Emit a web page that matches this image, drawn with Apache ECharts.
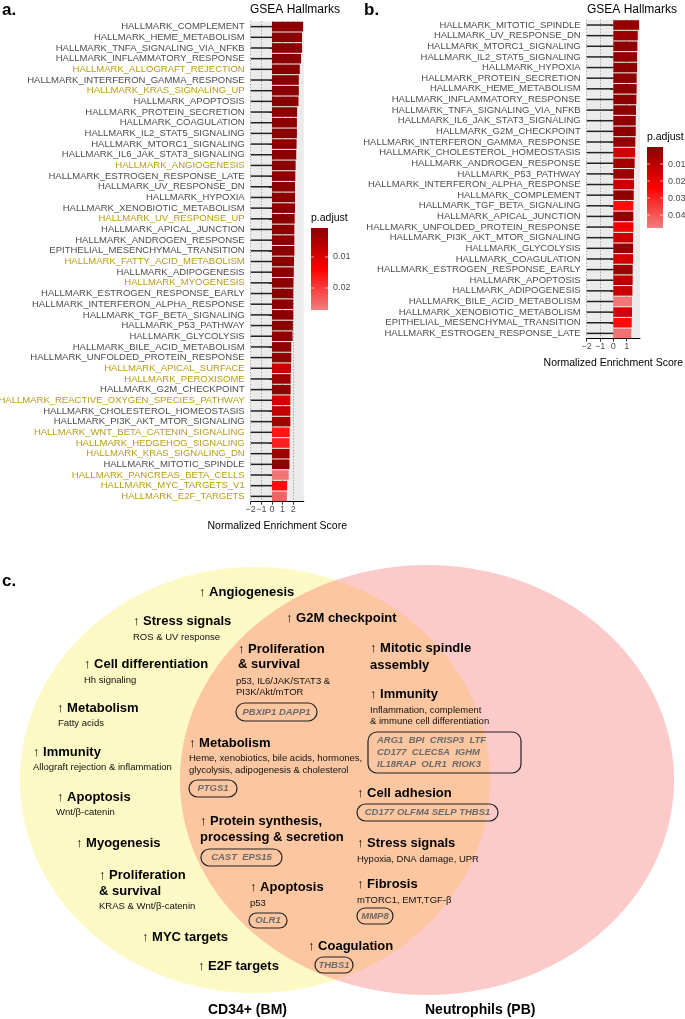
<!DOCTYPE html>
<html><head><meta charset="utf-8">
<script src="https://cdn.jsdelivr.net/npm/echarts@6/dist/echarts.min.js"></script>
<style>html,body{margin:0;padding:0;background:#fff}#c{width:685px;height:1019px}</style>
</head><body><div id="c"></div>
<script>
// ---------------- DATA ----------------
const catsA = ["HALLMARK_COMPLEMENT","HALLMARK_HEME_METABOLISM","HALLMARK_TNFA_SIGNALING_VIA_NFKB","HALLMARK_INFLAMMATORY_RESPONSE","HALLMARK_ALLOGRAFT_REJECTION","HALLMARK_INTERFERON_GAMMA_RESPONSE","HALLMARK_KRAS_SIGNALING_UP","HALLMARK_APOPTOSIS","HALLMARK_PROTEIN_SECRETION","HALLMARK_COAGULATION","HALLMARK_IL2_STAT5_SIGNALING","HALLMARK_MTORC1_SIGNALING","HALLMARK_IL6_JAK_STAT3_SIGNALING","HALLMARK_ANGIOGENESIS","HALLMARK_ESTROGEN_RESPONSE_LATE","HALLMARK_UV_RESPONSE_DN","HALLMARK_HYPOXIA","HALLMARK_XENOBIOTIC_METABOLISM","HALLMARK_UV_RESPONSE_UP","HALLMARK_APICAL_JUNCTION","HALLMARK_ANDROGEN_RESPONSE","EPITHELIAL_MESENCHYMAL_TRANSITION","HALLMARK_FATTY_ACID_METABOLISM","HALLMARK_ADIPOGENESIS","HALLMARK_MYOGENESIS","HALLMARK_ESTROGEN_RESPONSE_EARLY","HALLMARK_INTERFERON_ALPHA_RESPONSE","HALLMARK_TGF_BETA_SIGNALING","HALLMARK_P53_PATHWAY","HALLMARK_GLYCOLYSIS","HALLMARK_BILE_ACID_METABOLISM","HALLMARK_UNFOLDED_PROTEIN_RESPONSE","HALLMARK_APICAL_SURFACE","HALLMARK_PEROXISOME","HALLMARK_G2M_CHECKPOINT","HALLMARK_REACTIVE_OXYGEN_SPECIES_PATHWAY","HALLMARK_CHOLESTEROL_HOMEOSTASIS","HALLMARK_PI3K_AKT_MTOR_SIGNALING","HALLMARK_WNT_BETA_CATENIN_SIGNALING","HALLMARK_HEDGEHOG_SIGNALING","HALLMARK_KRAS_SIGNALING_DN","HALLMARK_MITOTIC_SPINDLE","HALLMARK_PANCREAS_BETA_CELLS","HALLMARK_MYC_TARGETS_V1","HALLMARK_E2F_TARGETS"];
const nesA = [2.93,2.83,2.83,2.74,2.62,2.53,2.53,2.50,2.37,2.35,2.35,2.32,2.29,2.23,2.20,2.17,2.17,2.17,2.14,2.11,2.11,2.11,2.08,2.05,2.02,2.00,2.00,2.00,1.97,1.94,1.82,1.82,1.79,1.76,1.76,1.73,1.73,1.73,1.67,1.66,1.66,1.65,1.58,1.43,1.40];
const padjA = [0.0007,0.0007,0.0007,0.0007,0.0007,0.0007,0.0007,0.0007,0.0007,0.0007,0.0007,0.0007,0.0007,0.0007,0.0007,0.0007,0.0007,0.0007,0.0007,0.0007,0.0007,0.0007,0.0007,0.0007,0.0007,0.0007,0.0007,0.0007,0.0007,0.0012,0.0012,0.0012,0.008,0.003,0.0008,0.009,0.007,0.003,0.016,0.017,0.003,0.0008,0.026,0.015,0.024];
const uniqueA = ["HALLMARK_ALLOGRAFT_REJECTION","HALLMARK_KRAS_SIGNALING_UP","HALLMARK_ANGIOGENESIS","HALLMARK_UV_RESPONSE_UP","HALLMARK_FATTY_ACID_METABOLISM","HALLMARK_MYOGENESIS","HALLMARK_APICAL_SURFACE","HALLMARK_PEROXISOME","HALLMARK_REACTIVE_OXYGEN_SPECIES_PATHWAY","HALLMARK_WNT_BETA_CATENIN_SIGNALING","HALLMARK_HEDGEHOG_SIGNALING","HALLMARK_KRAS_SIGNALING_DN","HALLMARK_PANCREAS_BETA_CELLS","HALLMARK_MYC_TARGETS_V1","HALLMARK_E2F_TARGETS"];

const catsB = ["HALLMARK_MITOTIC_SPINDLE","HALLMARK_UV_RESPONSE_DN","HALLMARK_MTORC1_SIGNALING","HALLMARK_IL2_STAT5_SIGNALING","HALLMARK_HYPOXIA","HALLMARK_PROTEIN_SECRETION","HALLMARK_HEME_METABOLISM","HALLMARK_INFLAMMATORY_RESPONSE","HALLMARK_TNFA_SIGNALING_VIA_NFKB","HALLMARK_IL6_JAK_STAT3_SIGNALING","HALLMARK_G2M_CHECKPOINT","HALLMARK_INTERFERON_GAMMA_RESPONSE","HALLMARK_CHOLESTEROL_HOMEOSTASIS","HALLMARK_ANDROGEN_RESPONSE","HALLMARK_P53_PATHWAY","HALLMARK_INTERFERON_ALPHA_RESPONSE","HALLMARK_COMPLEMENT","HALLMARK_TGF_BETA_SIGNALING","HALLMARK_APICAL_JUNCTION","HALLMARK_UNFOLDED_PROTEIN_RESPONSE","HALLMARK_PI3K_AKT_MTOR_SIGNALING","HALLMARK_GLYCOLYSIS","HALLMARK_COAGULATION","HALLMARK_ESTROGEN_RESPONSE_EARLY","HALLMARK_APOPTOSIS","HALLMARK_ADIPOGENESIS","HALLMARK_BILE_ACID_METABOLISM","HALLMARK_XENOBIOTIC_METABOLISM","EPITHELIAL_MESENCHYMAL_TRANSITION","HALLMARK_ESTROGEN_RESPONSE_LATE"];
const nesB = [1.93,1.83,1.80,1.78,1.78,1.75,1.75,1.73,1.70,1.68,1.68,1.65,1.63,1.60,1.55,1.55,1.53,1.50,1.50,1.50,1.48,1.48,1.48,1.45,1.45,1.43,1.40,1.40,1.38,1.35];
const padjB = [0.001,0.003,0.001,0.001,0.001,0.001,0.001,0.001,0.001,0.001,0.001,0.001,0.015,0.005,0.003,0.012,0.001,0.026,0.001,0.021,0.013,0.002,0.015,0.004,0.010,0.013,0.046,0.015,0.026,0.045];

const xTicksA = [-2,-1,0,1,2];
const xTicksB = [-2,-1,0,1];
const legendTicksA = [0.01,0.02];
const legendTicksB = [0.01,0.02,0.03,0.04];
const padjRangeA = [0.00065,0.0271];
const padjRangeB = [0.0,0.0476];

// ---------------- STYLE ----------------
const FONT = "'Liberation Sans', Arial, Helvetica, sans-serif";
const PAL = ['#8B0000','#FF0000','#F08080'];
const GOLD = '#B89C14';
const GREY = '#4D4D4D';
const LBL = 9.5;

const chart = echarts.init(document.getElementById('c'), null, {renderer:'canvas', width:685, height:1019});

function labelFmt(list){ return v => list.includes(v) ? '{g|'+v+'}' : '{n|'+v+'}'; }
const rich = { g:{color:GOLD,fontSize:LBL,fontFamily:FONT}, n:{color:GREY,fontSize:LBL,fontFamily:FONT} };
const minus = v => v<0 ? '\u2212'+Math.abs(v) : String(v);

function xAxisCfg(grid, min, max, ticks){
  return {gridIndex:grid, type:'value', min:min, max:max, interval:1,
    axisLine:{show:true, onZero:false, lineStyle:{color:'#000', width:1}},
    axisTick:{show:true, length:3, customValues:ticks, lineStyle:{color:'#333'}},
    axisLabel:{customValues:ticks, fontSize:9, color:GREY, margin:3, fontFamily:FONT, formatter:minus, showMinLabel:true, hideOverlap:false},
    splitLine:{show:true, lineStyle:{type:[1,2], color:'#8a8a8a', width:1}},
    name:'Normalized Enrichment Score', nameLocation:'middle', nameGap:19,
    nameTextStyle:{fontSize:10.5, color:'#000', fontFamily:FONT}};
}
function yAxisCfg(grid, cats, hl){
  return {gridIndex:grid, type:'category', data:cats, inverse:true,
    axisLine:{show:false}, axisTick:{show:true, alignWithLabel:true, length:3, lineStyle:{color:'#333'}},
    axisLabel:{interval:0, margin:6, formatter:labelFmt(hl), rich:rich}, splitLine:{show:false}};
}
function stemSeries(idx, cats, xmin){
  return {type:'custom', xAxisIndex:idx, yAxisIndex:idx, z:3,
    data: cats.map(c=>[0,c]), encode:{x:0,y:1},
    renderItem:(p,api)=>{ const s=api.coord([xmin, api.value(1)]); const e=api.coord([0, api.value(1)]);
      return {type:'line', shape:{x1:s[0],y1:s[1],x2:e[0],y2:e[1]}, style:{stroke:'#222', lineWidth:1.5}}; }};
}

// legend (drawn with graphic, positions computed from the value range)
function colorLegend(x, yTop, w, h, range, ticks, title, titleY){
  const els = [];
  const yOf = v => yTop + (v-range[0])/(range[1]-range[0])*h;
  els.push({type:'text', x:x, y:titleY, style:{text:title, fill:'#000', fontSize:10.5, fontFamily:FONT, verticalAlign:'middle', textVerticalAlign:'middle'}});
  els.push({type:'rect', shape:{x:x, y:yTop, width:w, height:h},
    style:{fill:new echarts.graphic.LinearGradient(0,0,0,1,[{offset:0,color:PAL[0]},{offset:0.5,color:PAL[1]},{offset:1,color:PAL[2]}])}});
  ticks.forEach(t=>{ const y=yOf(t);
    els.push({type:'line', shape:{x1:x,y1:y,x2:x+3,y2:y}, style:{stroke:'#fff', lineWidth:0.8, opacity:0.8}});
    els.push({type:'line', shape:{x1:x+w-3,y1:y,x2:x+w,y2:y}, style:{stroke:'#fff', lineWidth:0.8, opacity:0.8}});
    els.push({type:'text', x:x+w+5, y:y, style:{text:String(t), fill:GREY, fontSize:9, fontFamily:FONT, verticalAlign:'middle', textVerticalAlign:'middle'}});
  });
  return els;
}

// ---------------- VENN (panel c) ----------------
const yel = {cx:255, cy:780, rx:235, ry:213};
const pnk = {cx:427, cy:780, rx:247, ry:215};
function ePt(e,t){ return [e.cx+e.rx*Math.cos(t), e.cy+e.ry*Math.sin(t)]; }
function inside(e,p){ const dx=(p[0]-e.cx)/e.rx, dy=(p[1]-e.cy)/e.ry; return dx*dx+dy*dy<=1; }
function ellPoly(e){ const pts=[]; for(let i=0;i<360;i++){ pts.push(ePt(e, i/360*2*Math.PI)); } return pts; }
function lensPoly(){ const pts=[]; const N=720;
  for(let i=0;i<=N;i++){ const t=-Math.PI+i/N*2*Math.PI; const p=ePt(yel,t); if(inside(pnk,p)) pts.push(p); }
  for(let i=0;i<=N;i++){ const t=i/N*2*Math.PI; const p=ePt(pnk,t); if(inside(yel,p)) pts.push(p); }
  return pts; }

const H = 13, S = 9.5, G = 9.5;
function txt(x,y,t,kind){
  const st = {text:t, fontFamily:FONT, verticalAlign:'middle', textVerticalAlign:'middle', fill:'#000'};
  if(kind==='h'){ st.fontSize=H; st.fontWeight='bold'; }
  else if(kind==='big'){ st.fontSize=14; st.fontWeight='bold'; }
  else { st.fontSize=S; st.fill='#111'; }
  return {type:'text', x:x, y:y, z:20, style:st};
}
function geneBox(x,y,w,h,lines,lineH,align){
  const els=[{type:'rect', z:19, shape:{x:x,y:y,width:w,height:h,r:Math.min(9,h/2)}, style:{fill:'none', stroke:'#222', lineWidth:1.2}}];
  lines.forEach((l,i)=>{
    const ty = y + h/2 + (i-(lines.length-1)/2)*lineH;
    els.push({type:'text', z:20, x: align==='left'? x+9 : x+w/2, y:ty, style:{text:l, fontFamily:FONT, fontSize:G, fontWeight:'bold', fontStyle:'italic', fill:'#6a6a6a', align: align==='left'?'left':'center', textAlign: align==='left'?'left':'center', verticalAlign:'middle', textVerticalAlign:'middle'}});
  });
  return els;
}

const vennText = [
  txt(199,592,'\u2191 Angiogenesis','h'),
  txt(133,621,'\u2191 Stress signals','h'), txt(133,637,'ROS & UV response','s'),
  txt(84,664,'\u2191 Cell differentiation','h'), txt(84,680,'Hh signaling','s'),
  txt(57,708,'\u2191 Metabolism','h'), txt(58,723,'Fatty acids','s'),
  txt(33,752,'\u2191 Immunity','h'), txt(33,767,'Allograft rejection & inflammation','s'),
  txt(57,797,'\u2191 Apoptosis','h'), txt(56,812,'Wnt/\u03b2-catenin','s'),
  txt(76,843,'\u2191 Myogenesis','h'),
  txt(99,875,'\u2191 Proliferation','h'), txt(99,891,'& survival','h'), txt(99,906,'KRAS & Wnt/\u03b2-catenin','s'),
  txt(142,937,'\u2191 MYC targets','h'),
  txt(198,966,'\u2191 E2F targets','h'),
  txt(208,1010,'CD34+ (BM)','big'),
  txt(425,1010,'Neutrophils (PB)','big'),
  txt(286,618,'\u2191 G2M checkpoint','h'),
  txt(238,649,'\u2191 Proliferation','h'), txt(238,664,'& survival','h'),
  txt(236,681,'p53, IL6/JAK/STAT3 &','s'), txt(236,692,'PI3K/Akt/mTOR','s'),
  txt(370,648,'\u2191 Mitotic spindle','h'), txt(370,665,'assembly','h'),
  txt(370,694,'\u2191 Immunity','h'), txt(370,710,'Inflammation, complement','s'), txt(370,721,'& immune cell differentiation','s'),
  txt(189,743,'\u2191 Metabolism','h'), txt(189,758,'Heme, xenobiotics, bile acids, hormones,','s'), txt(189,770,'glycolysis, adipogenesis & cholesterol','s'),
  txt(200,821,'\u2191 Protein synthesis,','h'), txt(200,837,'processing & secretion','h'),
  txt(250,887,'\u2191 Apoptosis','h'), txt(250,903,'p53','s'),
  txt(308,946,'\u2191 Coagulation','h'),
  txt(357,793,'\u2191 Cell adhesion','h'),
  txt(357,843,'\u2191 Stress signals','h'), txt(357,859,'Hypoxia, DNA damage, UPR','s'),
  txt(357,884,'\u2191 Fibrosis','h'), txt(357,900,'mTORC1, EMT,TGF-\u03b2','s')
];
const vennBoxes = [].concat(
  geneBox(236,703,81,18,['PBXIP1 DAPP1'],0,'c'),
  geneBox(368,732,153,41,['ARG1  BPI  CRISP3  LTF','CD177  CLEC5A  IGHM','IL18RAP  OLR1  RIOK3'],12,'left'),
  geneBox(189,780,48,17,['PTGS1'],0,'c'),
  geneBox(201,849,81,17,['CAST  EPS15'],0,'c'),
  geneBox(249,913,38,15,['OLR1'],0,'c'),
  geneBox(315,957,38,16,['THBS1'],0,'c'),
  geneBox(357,804,141,17,['CD177 OLFM4 SELP THBS1'],0,'c'),
  geneBox(357,908,36,16,['MMP8'],0,'c')
);

const graphics = [
  {type:'polygon', z:1, shape:{points:ellPoly(yel)}, style:{fill:'#FDF9C4'}},
  {type:'polygon', z:1, shape:{points:ellPoly(pnk)}, style:{fill:'#FDCACA'}},
  {type:'polygon', z:2, shape:{points:lensPoly()}, style:{fill:'#FBC6A0'}},
  {type:'text', x:2, y:10, z:20, style:{text:'a.', fontSize:17, fontWeight:'bold', fill:'#000', fontFamily:FONT, verticalAlign:'middle', textVerticalAlign:'middle'}},
  {type:'text', x:364, y:10, z:20, style:{text:'b.', fontSize:17, fontWeight:'bold', fill:'#000', fontFamily:FONT, verticalAlign:'middle', textVerticalAlign:'middle'}},
  {type:'text', x:2, y:581, z:20, style:{text:'c.', fontSize:17, fontWeight:'bold', fill:'#000', fontFamily:FONT, verticalAlign:'middle', textVerticalAlign:'middle'}},
  {type:'text', x:250, y:9.5, z:20, style:{text:'GSEA Hallmarks', fontSize:12, fill:'#000', fontFamily:FONT, verticalAlign:'middle', textVerticalAlign:'middle'}},
  {type:'text', x:587, y:9.5, z:20, style:{text:'GSEA Hallmarks', fontSize:12, fill:'#000', fontFamily:FONT, verticalAlign:'middle', textVerticalAlign:'middle'}}
].concat(
  colorLegend(311,228,17,82,padjRangeA,legendTicksA,'p.adjust',218),
  colorLegend(647,147,16,81,padjRangeB,legendTicksB,'p.adjust',137),
  vennText, vennBoxes
);

const option = {
  animation:false,
  backgroundColor:'#fff',
  grid:[
    {left:250.7, top:21.3, width:53.1, height:480.4, show:true, backgroundColor:'#EBEBEB', borderWidth:0, containLabel:false, outerBoundsMode:'none'},
    {left:586.7, top:19.7, width:53.3, height:319, show:true, backgroundColor:'#EBEBEB', borderWidth:0, containLabel:false, outerBoundsMode:'none'}
  ],
  xAxis:[ xAxisCfg(0,-2,3,xTicksA), xAxisCfg(1,-2,2,xTicksB) ],
  yAxis:[ yAxisCfg(0,catsA,uniqueA), yAxisCfg(1,catsB,[]) ],
  visualMap:[
    {show:false, type:'continuous', seriesIndex:0, dimension:2, min:padjRangeA[0], max:padjRangeA[1], inRange:{color:PAL}},
    {show:false, type:'continuous', seriesIndex:2, dimension:2, min:padjRangeB[0], max:padjRangeB[1], inRange:{color:PAL}}
  ],
  series:[
    {type:'bar', xAxisIndex:0, yAxisIndex:0, z:4, barCategoryGap:'10%', data:catsA.map((c,i)=>[nesA[i],c,padjA[i]]), encode:{x:0,y:1}},
    stemSeries(0,catsA,-2),
    {type:'bar', xAxisIndex:1, yAxisIndex:1, z:4, barCategoryGap:'10%', data:catsB.map((c,i)=>[nesB[i],c,padjB[i]]), encode:{x:0,y:1}},
    stemSeries(1,catsB,-2)
  ],
  graphic:{elements:graphics}
};
chart.setOption(option);
</script></body></html>
